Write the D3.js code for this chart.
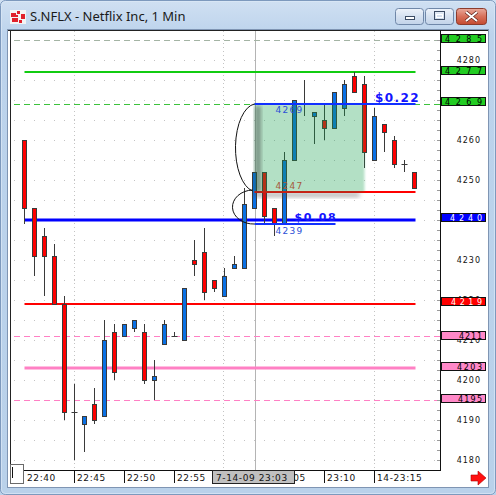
<!DOCTYPE html>
<html><head><meta charset="utf-8">
<script src="https://cdn.jsdelivr.net/npm/d3@7"></script>
<style>html,body{margin:0;padding:0;background:#fff;overflow:hidden}svg{display:block}</style>
</head><body><svg id="c" width="496" height="495"></svg>
<script>
// One-minute bars for S.NFLX, prices in cents (4260 = $42.60)
const times = ["22:40","22:41","22:42","22:43","22:44","22:45","22:46","22:47","22:48","22:49",
               "22:50","22:51","22:52","22:53","22:54","22:55","22:56","22:57","22:58","22:59",
               "23:00","23:01","23:02","23:03","23:04","23:05","23:06","23:07","23:08","23:09",
               "23:10","23:11","23:12","23:13","23:14","23:15","23:16","23:17","23:18","23:19"];
const opens  = [4260,4243,4236,4231,4219,4192,4189,4194,4191,4212,4211,4213,4212,4200,4209,4211,4210,4230,4232,4225,
                4221,4228,4228,4243,4252,4243,4239,4255,4269,4266,4265,4263,4268,4276,4274,4255,4264,4260,4254,4252];
const highs  = [4260,4243,4238,4234,4221,4199,4191,4198,4215,4214,4214,4215,4214,4205,4215,4212,4223,4235,4238,4225,
                4228,4231,4248,4252,4252,4243,4257,4270,4275,4267,4269,4272,4275,4277,4276,4268,4264,4261,4255,4252];
const lows   = [4239,4226,4221,4219,4190,4180,4182,4189,4191,4200,4211,4212,4199,4195,4209,4211,4210,4226,4220,4222,
                4221,4228,4228,4243,4239,4236,4239,4255,4266,4259,4260,4263,4266,4272,4253,4255,4257,4253,4252,4248];
const closes = [4243,4231,4231,4219,4192,4192,4191,4190,4210,4202,4214,4215,4200,4201,4214,4211,4223,4229,4222,4223,
                4226,4229,4244,4252,4241,4239,4255,4270,4269,4267,4263,4272,4274,4272,4257,4266,4262,4254,4254,4248];

// Price axis labels (4240 and 4270 sit under level tags) and time axis labels
const priceTicks = [4180,4190,4200,4210,4220,4230,4250,4260,4280];
const timeTickAt = ["22:40","22:45","22:50","22:55","23:05","23:10","23:15"];
const timeTickText = ["22:40","22:45","22:50","22:55","23:05","23:10","14-23:15"];
const timeSeparators = ["22:45","22:50","22:55","23:00","23:05","23:10","23:15"];
const cursorTime = "23:03";
const cursorLabel = "7-14-09 23:03";

// Horizontal study levels
const levelNames  = ["r3","r2","r1","pivot","s1","s2","s3","s4"];
const levelValues = [4285,4277,4269,4240,4219,4211,4203,4195];

// Range measurement drawn from 23:03
const measureFrom = "23:03", measureTo = "23:14", measureLowTo = "23:11";
const measureHigh = 4269, measureMid = 4247, measureLow = 4239;

const svg = d3.select("#c");
const FONT = "'DejaVu Sans', sans-serif";

// ---------- window frame ----------
const defs = svg.append("defs");
const tg = defs.append("linearGradient").attr("id","frame").attr("x1",0).attr("y1",0).attr("x2",0).attr("y2",1);
tg.append("stop").attr("offset","0").attr("stop-color","#d0e0f2");
tg.append("stop").attr("offset","0.07").attr("stop-color","#bcd3ec");
tg.append("stop").attr("offset","1").attr("stop-color","#b9d1ea");
svg.append("rect").attr("x",0).attr("y",0).attr("width",496).attr("height",495).attr("fill","url(#frame)");
svg.append("rect").attr("x",0.5).attr("y",0.5).attr("width",495).attr("height",494).attr("rx",5)
  .attr("fill","none").attr("stroke","#7d99bd");
svg.append("rect").attr("x",1.5).attr("y",1.5).attr("width",493).attr("height",492).attr("rx",4)
  .attr("fill","none").attr("stroke","#dce8f6").attr("stroke-opacity",0.7);

// title icon
const icon = svg.append("g");
icon.append("rect").attr("x",10).attr("y",10).attr("width",16).attr("height",14).attr("fill","#f4f4f4");
[[11,13,5,4],[17,11,3,3],[21,14,4,5],[12,18,6,4],[19,20,3,3],[15,15,3,2]].forEach(r =>
  icon.append("rect").attr("x",r[0]).attr("y",r[1]).attr("width",r[2]).attr("height",r[3]).attr("fill","#e0202a"));

svg.append("text").attr("x",30).attr("y",21).attr("font-family","'Noto Sans', sans-serif")
  .attr("font-size",13).attr("fill","#1a1a1a").text("S.NFLX - Netflix Inc, 1 Min");

// caption buttons
const bg = defs.append("linearGradient").attr("id","btn").attr("x1",0).attr("y1",0).attr("x2",0).attr("y2",1);
bg.append("stop").attr("offset","0").attr("stop-color","#eef3fa");
bg.append("stop").attr("offset","0.5").attr("stop-color","#d5e1f0");
bg.append("stop").attr("offset","1").attr("stop-color","#c2d3e9");
const rg = defs.append("linearGradient").attr("id","btnx").attr("x1",0).attr("y1",0).attr("x2",0).attr("y2",1);
rg.append("stop").attr("offset","0").attr("stop-color","#e9a99b");
rg.append("stop").attr("offset","0.5").attr("stop-color","#d7705a");
rg.append("stop").attr("offset","1").attr("stop-color","#c44a30");
svg.append("rect").attr("x",395.5).attr("y",8.5).attr("width",28).attr("height",16).attr("rx",3)
  .attr("fill","url(#btn)").attr("stroke","#6f87a8");
svg.append("rect").attr("x",405.5).attr("y",16.5).attr("width",9).attr("height",3)
  .attr("fill","#fff").attr("stroke","#3c4c64");
svg.append("rect").attr("x",425.5).attr("y",8.5).attr("width",28).attr("height",16).attr("rx",3)
  .attr("fill","url(#btn)").attr("stroke","#6f87a8");
svg.append("rect").attr("x",434.5).attr("y",11.5).attr("width",10).attr("height",8)
  .attr("fill","none").attr("stroke","#3c4c64").attr("stroke-width",1);
svg.append("rect").attr("x",436.5).attr("y",14.5).attr("width",6).attr("height",3)
  .attr("fill","none").attr("stroke","#fff").attr("stroke-width",1);
svg.append("rect").attr("x",456.5).attr("y",8.5).attr("width",30).attr("height",16).attr("rx",3)
  .attr("fill","url(#btnx)").attr("stroke","#8b3b2c");
svg.append("path").attr("d","M466,12 L477,21 M477,12 L466,21").attr("stroke","#5a1f18").attr("stroke-width",3.4);
svg.append("path").attr("d","M466,12 L477,21 M477,12 L466,21").attr("stroke","#fff").attr("stroke-width",2);

// client area
svg.append("rect").attr("x",7.5).attr("y",29.5).attr("width",481).attr("height",458)
  .attr("fill","#fff").attr("stroke","#7f95b3");

// ---------- scales ----------
const idx = t => times.indexOf(t);
const x = d3.scaleLinear().domain([0, times.length - 1]).range([24.5, 414.5]);
const y = d3.scaleLinear().domain([4180, 4280]).range([460, 60]);
const py = v => Math.round(y(v)) + 0.5;
const plot = {left: 10, right: 440, top: 30, bottom: 470};

// ---------- grid ----------
const grid = svg.append("g");
grid.selectAll("line.h").data(d3.range(4180, 4290, 5)).join("line")
  .attr("x1", 14).attr("x2", plot.right - 2).attr("y1", py).attr("y2", py)
  .attr("stroke", "#c4c4c4").attr("stroke-dasharray", "1 9");
grid.selectAll("line.v").data(["22:45","23:00","23:15"]).join("line")
  .attr("x1", d => Math.round(x(idx(d))) - 0.5).attr("x2", d => Math.round(x(idx(d))) - 0.5)
  .attr("y1", plot.top + 1).attr("y2", plot.bottom)
  .attr("stroke", "#c4c4c4").attr("stroke-dasharray", "1 3");

// cursor line
const cx0 = Math.round(x(idx(cursorTime))) + 0.5;
svg.append("line").attr("x1", cx0).attr("x2", cx0).attr("y1", plot.top + 1).attr("y2", plot.bottom)
  .attr("stroke", "#b4b4b4");

// ---------- study levels ----------
const levelStyle = {
  r3:    {color:"#a4b4a4", dash:"6 4", w:1, full:true,  box:"#22cc22", text:"#000", len:37, tag:1},
  r2:    {color:"#11cc11", dash:null,  w:2, full:false, box:"#22cc22", text:"#000", len:37, tag:1},
  r1:    {color:"#3cc23c", dash:"6 4", w:1, full:true,  box:"#22cc22", text:"#000", len:37, tag:2.5},
  pivot: {color:"#0000ff", dash:null,  w:3, full:false, box:"#0000ff", text:"#fff", len:32, tag:2},
  s1:    {color:"#ff0000", dash:null,  w:2, full:false, box:"#ff0000", text:"#fff", len:31, tag:1.5},
  s2:    {color:"#ff80c4", dash:"6 4", w:1, full:true,  box:"#ff88c8", text:"#000", len:23, tag:0.5},
  s3:    {color:"#ff80c4", dash:null,  w:3, full:false, box:"#ff88c8", text:"#000", len:25, tag:1},
  s4:    {color:"#ff80c4", dash:"6 4", w:1, full:true,  box:"#ff88c8", text:"#000", len:24, tag:1}
};
const levels = levelNames.map((n, i) => ({name: n, value: levelValues[i], s: levelStyle[n]}));
const ly = d => d.s.w === 1 ? py(d.value) : Math.round(y(d.value));
svg.append("g").selectAll("line").data(levels).join("line")
  .attr("x1", d => d.s.full ? 14 : x(0))
  .attr("x2", d => d.s.full ? plot.right : x(times.length - 1) + 1)
  .attr("y1", ly).attr("y2", ly)
  .attr("stroke", d => d.s.color).attr("stroke-width", d => d.s.w)
  .attr("stroke-dasharray", d => d.s.dash);

// ---------- candles ----------
const bars = times.map((t, i) => ({t, i, o: opens[i], h: highs[i], l: lows[i], c: closes[i]}));
const cg = svg.append("g");
cg.selectAll("line.wick").data(bars).join("line")
  .attr("x1", d => x(d.i)).attr("x2", d => x(d.i))
  .attr("y1", d => Math.round(y(d.h))).attr("y2", d => Math.round(y(d.l)))
  .attr("stroke", "#3a3a3a").attr("stroke-width", 1);
cg.selectAll("rect.body").data(bars.filter(d => d.o !== d.c)).join("rect")
  .attr("x", d => x(d.i) - 2).attr("width", 4)
  .attr("y", d => py(Math.max(d.o, d.c)))
  .attr("height", d => py(Math.min(d.o, d.c)) - py(Math.max(d.o, d.c)))
  .attr("fill", d => d.c > d.o ? "#0a70e4" : "#ff0000")
  .attr("stroke", "#3a3a3a").attr("stroke-width", 1);
cg.selectAll("line.doji").data(bars.filter(d => d.o === d.c)).join("line")
  .attr("x1", d => x(d.i) - 3).attr("x2", d => x(d.i) + 3)
  .attr("y1", d => py(d.o)).attr("y2", d => py(d.o))
  .attr("stroke", "#3a3a3a");

// ---------- range measurement ----------
const mx0 = x(idx(measureFrom)), mx1 = x(idx(measureTo)), mxl = x(idx(measureLowTo));
const xEnd = x(times.length - 1) + 1;
const blur = defs.append("filter").attr("id","soft").attr("x","-10%").attr("y","-10%").attr("width","120%").attr("height","120%");
blur.append("feGaussianBlur").attr("stdDeviation", 0.8);
const blur2 = defs.append("filter").attr("id","shade").attr("x","-50%").attr("y","-50%").attr("width","200%").attr("height","200%");
blur2.append("feGaussianBlur").attr("stdDeviation", 2.2);

svg.append("line").attr("x1", mx0).attr("x2", xEnd).attr("y1", Math.round(y(measureMid))).attr("y2", Math.round(y(measureMid)))
  .attr("stroke", "#ff0000").attr("stroke-width", 2);
svg.append("rect").attr("x", mx0 - 1).attr("y", y(measureMid) + 1).attr("width", mx1 - mx0 - 4).attr("height", 4)
  .attr("fill", "#555").attr("opacity", 0.45).attr("filter", "url(#shade)");
svg.append("rect").attr("x", mx0).attr("y", y(measureHigh)).attr("width", mx1 - mx0)
  .attr("height", y(measureMid) - y(measureHigh))
  .attr("fill", "rgb(20,160,80)").attr("opacity", 0.32).attr("filter", "url(#soft)");
svg.append("rect").attr("x", mx0 + 1).attr("y", y(measureHigh) + 2).attr("width", 5)
  .attr("height", y(measureMid) - y(measureHigh) - 2)
  .attr("fill", "#333").attr("opacity", 0.5).attr("filter", "url(#shade)");
svg.append("line").attr("x1", mx0).attr("x2", xEnd).attr("y1", Math.round(y(measureHigh))).attr("y2", Math.round(y(measureHigh)))
  .attr("stroke", "#1030ff").attr("stroke-width", 2);
svg.append("line").attr("x1", mx0).attr("x2", mxl + 1).attr("y1", Math.round(y(measureLow))).attr("y2", Math.round(y(measureLow)))
  .attr("stroke", "#1030ff").attr("stroke-width", 2);

// bracket arcs joining the measured levels
const rHi = (y(measureMid) - y(measureHigh)) / 2, rLo = (y(measureLow) - y(measureMid)) / 2;
svg.append("path")
  .attr("d", `M${mx0},${y(measureHigh)} A21,${rHi} 0 0,0 ${mx0 - 2},${y(measureMid) - 1}`)
  .attr("fill", "none").attr("stroke", "#111").attr("stroke-width", 1);
svg.append("path")
  .attr("d", `M${mx0 - 2},${y(measureMid) - 2} A21,${rLo + 1} 0 0,0 ${mx0},${y(measureLow)}`)
  .attr("fill", "none").attr("stroke", "#111").attr("stroke-width", 1);

const fmtCents = v => "$" + (v / 100).toFixed(2);
const tlab = (tx, ty, txt, col, size, bold, ls) => svg.append("text").attr("x", tx).attr("y", ty)
  .attr("font-family", FONT).attr("font-size", size).attr("font-weight", bold ? "bold" : "normal")
  .attr("letter-spacing", ls).attr("fill", col).text(txt);
tlab(mx0 + 21, y(measureHigh) + 9, measureHigh, "#2c4fd6", 9, false, 1.3);
tlab(mx0 + 21, y(measureMid) - 3, measureMid, "#a65a3c", 9, false, 1.3);
tlab(mx0 + 21, y(measureLow) + 10, measureLow, "#2c4fd6", 9, false, 1.3);
tlab(mx0 + 40, y(measureLow) - 3, fmtCents(measureMid - measureLow), "#1414ff", 11, true, 1.6);
tlab(x(times.length - 5) + 0.5, y(measureHigh) - 2, fmtCents(measureHigh - measureMid), "#1414ff", 12, true, 1.4);

// ---------- plot frame ----------
svg.append("line").attr("x1", 8).attr("x2", 488).attr("y1", 30.5).attr("y2", 30.5).attr("stroke", "#222");
svg.append("line").attr("x1", 10.5).attr("x2", 10.5).attr("y1", 30).attr("y2", 464).attr("stroke", "#222");
svg.append("line").attr("x1", 440.5).attr("x2", 440.5).attr("y1", 30).attr("y2", 471).attr("stroke", "#111");
svg.append("line").attr("x1", 23).attr("x2", 441).attr("y1", 470.5).attr("y2", 470.5).attr("stroke", "#111");

// minor ticks on price axis
svg.append("g").selectAll("line").data(d3.range(4180, 4287.5, 2.5)).join("line")
  .attr("x1", 437).attr("x2", 440).attr("y1", py).attr("y2", py).attr("stroke", "#9a9a9a");

// ---------- price axis labels ----------
svg.append("g").selectAll("text").data(priceTicks).join("text")
  .attr("x", 481).attr("y", d => y(d) + 3).attr("text-anchor", "end")
  .attr("font-family", FONT).attr("font-size", 8).attr("letter-spacing", 1).attr("fill", "#111")
  .text(d => d);
const lg = svg.append("g").selectAll("g").data(levels).join("g");
const tagY = d => Math.round(y(d.value) - d.s.tag);
lg.append("rect").attr("x", 441.5).attr("y", d => tagY(d) - 4.5).attr("width", 44).attr("height", 8)
  .attr("fill", d => d.s.box).attr("stroke", "#111");
lg.append("text").attr("x", d => 482 - d.s.len).attr("y", d => tagY(d) + 2.8)
  .attr("font-family", FONT).attr("font-size", 8).attr("fill", d => d.s.text)
  .attr("textLength", d => d.s.len).attr("lengthAdjust", "spacing").text(d => d.value);

// ---------- time axis ----------
const tx = t => Math.round(x(idx(t)) - 0.5);
svg.append("g").selectAll("line").data(timeSeparators).join("line")
  .attr("x1", d => tx(d) + 0.5).attr("x2", d => tx(d) + 0.5).attr("y1", 471).attr("y2", 483)
  .attr("stroke", "#111");
defs.append("clipPath").attr("id", "axisclip").append("rect")
  .attr("x", 295).attr("y", 466).attr("width", 150).attr("height", 20);
svg.append("g").selectAll("text").data(timeTickAt).join("text")
  .attr("x", d => tx(d) + 3).attr("y", 481)
  .attr("clip-path", d => d === "23:05" ? "url(#axisclip)" : null)
  .attr("font-family", FONT).attr("font-size", 9).attr("letter-spacing", 0.6).attr("fill", "#111")
  .text((d, i) => timeTickText[i]);
svg.append("rect").attr("x", 212.5).attr("y", 470.5).attr("width", 82).attr("height", 13)
  .attr("fill", "#c0c0c0").attr("stroke", "#222");
svg.append("text").attr("x", 216).attr("y", 481).attr("font-family", FONT).attr("font-size", 9)
  .attr("letter-spacing", 0.6).attr("fill", "#111").text(cursorLabel);

// scroll stub at the left end of the time axis
svg.append("rect").attr("x", 10.5).attr("y", 464.5).attr("width", 13).attr("height", 19)
  .attr("fill", "#fff").attr("stroke", "#6a6a6a");
svg.append("line").attr("x1", 12.5).attr("x2", 12.5).attr("y1", 467).attr("y2", 478).attr("stroke", "#111");

// scroll-right arrow
svg.append("path").attr("d", "M471,475 L478,475 L478,471 L486,478 L478,485 L478,481 L471,481 Z")
  .attr("fill", "#ff1010").attr("stroke", "#b00000").attr("stroke-width", 0.6);
</script></body></html>
